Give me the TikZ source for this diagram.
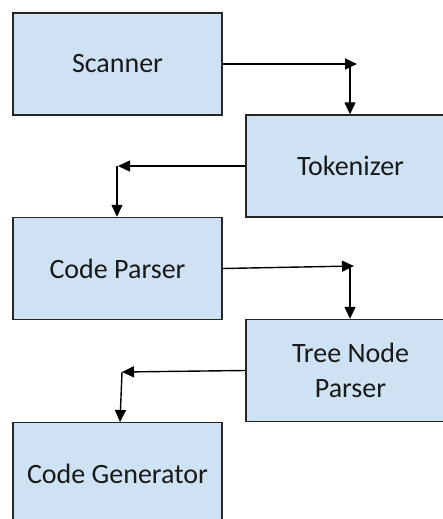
\documentclass[tikz,border=0pt]{standalone}
\usepackage{fontspec}
\setmainfont{Carlito}
\usetikzlibrary{arrows.meta}
\definecolor{boxblue}{HTML}{CFE2F3}
\begin{document}
\begin{tikzpicture}[x=1pt,y=-1pt,
  box/.style={draw=black!85, line width=1.4pt, fill=boxblue, minimum width=209pt,
    minimum height=102pt, inner sep=0pt, font=\fontsize{28}{35}\selectfont,
    align=center, text=black!90},
  arr/.style={line width=1.4pt, -{Triangle[length=12pt,width=11pt]}}]
\useasboundingbox (0,0) rectangle (443,519);
\clip (0,0) rectangle (443,519);
\node[box] (scan) at (117.5,64) {Scanner};
\node[box] (tok)  at (350.5,166) {Tokenizer};
\node[box] (cp)   at (117.5,268.5) {Code Parser};
\node[box] (tnp)  at (350.5,370.5) {Tree Node\\Parser};
\node[box] (cg)   at (117.5,473.5) {Code Generator};
% Scanner -> Tokenizer
\coordinate (c1) at (357,64);
\coordinate (v1) at (350,64);
\draw[arr] (scan.east) -- (c1);
\draw[arr] (v1) -- (v1 |- tok.north);
% Tokenizer -> Code Parser
\coordinate (c2) at (118,166);
\coordinate (v2) at (117,166);
\draw[arr] (tok.west) -- (c2);
\draw[arr] (v2) -- (v2 |- cp.north);
% Code Parser -> Tree Node Parser
\coordinate (c3) at (354,266);
\coordinate (v3) at (350,266);
\draw[arr] (cp.east) -- (c3);
\draw[arr] (v3) -- (v3 |- tnp.north);
% Tree Node Parser -> Code Generator
\coordinate (c4) at (122,372);
\coordinate (v4) at (122,372);
\coordinate (e4) at (120,422);
\draw[arr] (tnp.west) -- (c4);
\draw[arr] (v4) -- (e4);
\end{tikzpicture}
\end{document}
